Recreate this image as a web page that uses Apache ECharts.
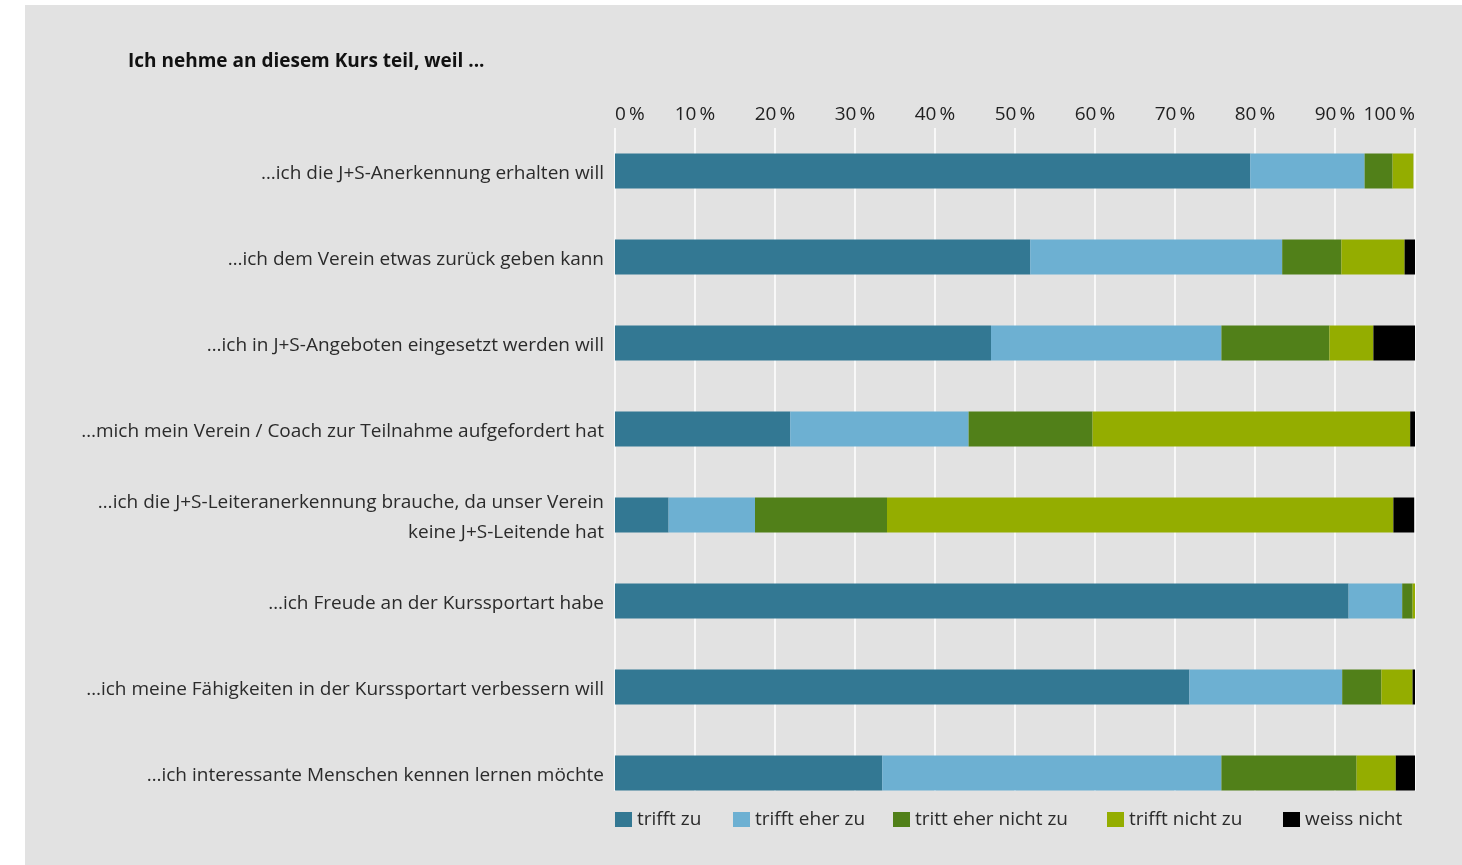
<!DOCTYPE html>
<html>
<head>
<meta charset="utf-8">
<script src="https://cdn.jsdelivr.net/npm/echarts@6/dist/echarts.min.js"></script>
<style>
  html, body { margin: 0; padding: 0; background: #ffffff; width: 1462px; height: 865px; overflow: hidden; }
  #panel { position: absolute; left: 25px; top: 5px; width: 1437px; height: 860px; background: #e2e2e2; }
  #chart { width: 1437px; height: 860px; }
</style>
</head>
<body>
<div id="panel"><div id="chart"></div></div>
<script>
// ---- data ----
const categories = [
  "\u2026ich die J+S-Anerkennung erhalten will",
  "\u2026ich dem Verein etwas zur\u00fcck geben kann",
  "\u2026ich in J+S-Angeboten eingesetzt werden will",
  "\u2026mich mein Verein / Coach zur Teilnahme aufgefordert hat",
  "\u2026ich die J+S-Leiteranerkennung brauche, da unser Verein\nkeine J+S-Leitende hat",
  "\u2026ich Freude an der Kurssportart habe",
  "\u2026ich meine F\u00e4higkeiten in der Kurssportart verbessern will",
  "\u2026ich interessante Menschen kennen lernen m\u00f6chte"
];
const seriesNames = ["trifft zu", "trifft eher zu", "tritt eher nicht zu", "trifft nicht zu", "weiss nicht"];
const trifftZu        = [79.4, 51.9, 47.0, 21.9,  6.7, 91.7, 71.8, 33.4];
const trifftEherZu    = [14.3, 31.5, 28.8, 22.3, 10.8,  6.7, 19.1, 42.4];
const trittEherNicht  = [ 3.5,  7.4, 13.5, 15.5, 16.5,  1.3,  4.9, 16.9];
const trifftNichtZu   = [ 2.6,  7.9,  5.5, 39.7, 63.3,  0.3,  3.9,  4.9];
const weissNicht      = [ 0.0,  1.5,  5.2,  0.6,  2.6,  0.0,  0.3,  2.4];
const tickValues = [0, 10, 20, 30, 40, 50, 60, 70, 80, 90, 100];
const title = "Ich nehme an diesem Kurs teil, weil ...";

// ---- styles ----
const colors = ["#337893", "#6db0d2", "#518019", "#94ad00", "#000000"];
const legendLefts = [590, 708, 868, 1082, 1258];
const FONT = "'Open Sans', 'Noto Sans', sans-serif";
const allValues = [trifftZu, trifftEherZu, trittEherNicht, trifftNichtZu, weissNicht];

const chart = echarts.init(document.getElementById('chart'), null, { renderer: 'canvas' });

const option = {
  backgroundColor: '#e2e2e2',
  animation: false,
  color: colors,
  textStyle: { fontFamily: FONT },
  title: {
    text: title,
    left: 103, top: 47, padding: 0,
    textStyle: { fontFamily: FONT, fontSize: 19, fontWeight: 'bold', color: '#111' }
  },
  legend: seriesNames.map((name, i) => ({
    data: [name],
    left: legendLefts[i], top: 805, padding: 0,
    icon: 'rect',
    itemWidth: 17, itemHeight: 15,
    selectedMode: false,
    textStyle: { fontFamily: FONT, fontSize: 19, color: '#2b2b2b' }
  })),
  grid: [
    // bars + category labels
    { left: 590, width: 800, top: 123, height: 688, containLabel: false },
    // gridlines + percent labels
    { left: 590, width: 800, top: 123, height: 663, containLabel: false }
  ],
  xAxis: [
    { gridIndex: 0, type: 'value', min: 0, max: 100, interval: 10, show: false },
    {
      gridIndex: 1, type: 'value', min: 0, max: 100, interval: 10, position: 'top',
      axisLine: { show: false }, axisTick: { show: false },
      splitLine: { show: true, lineStyle: { color: '#ffffff', width: 1.5 } },
      axisLabel: {
        margin: 4,
        fontFamily: FONT, fontSize: 19, color: '#222',
        alignMinLabel: 'left', alignMaxLabel: 'right',
        formatter: v => tickValues.indexOf(v) >= 0 ? v + '\u2009%' : ''
      }
    }
  ],
  yAxis: [
    {
      gridIndex: 0, type: 'category', data: categories, inverse: true,
      axisLine: { show: false }, axisTick: { show: false }, splitLine: { show: false },
      axisLabel: {
        margin: 11, fontFamily: FONT, fontSize: 19, color: '#2b2b2b',
        align: 'right', lineHeight: 30,
        formatter: v => v.split('\n').map(s => '{a|' + s + '}').join('\n'),
        rich: { a: { fontFamily: FONT, fontSize: 19, color: '#2b2b2b', lineHeight: 30, padding: [6, 0, 0, 0] } }
      }
    },
    { gridIndex: 1, type: 'category', data: categories, inverse: true, show: false }
  ],
  series: seriesNames.map((name, i) => ({
    name: name,
    type: 'bar',
    stack: 'total',
    xAxisIndex: 0, yAxisIndex: 0,
    barWidth: 35,
    itemStyle: { color: colors[i] },
    emphasis: { disabled: true },
    data: allValues[i]
  }))
};
chart.setOption(option);
</script>
</body>
</html>
